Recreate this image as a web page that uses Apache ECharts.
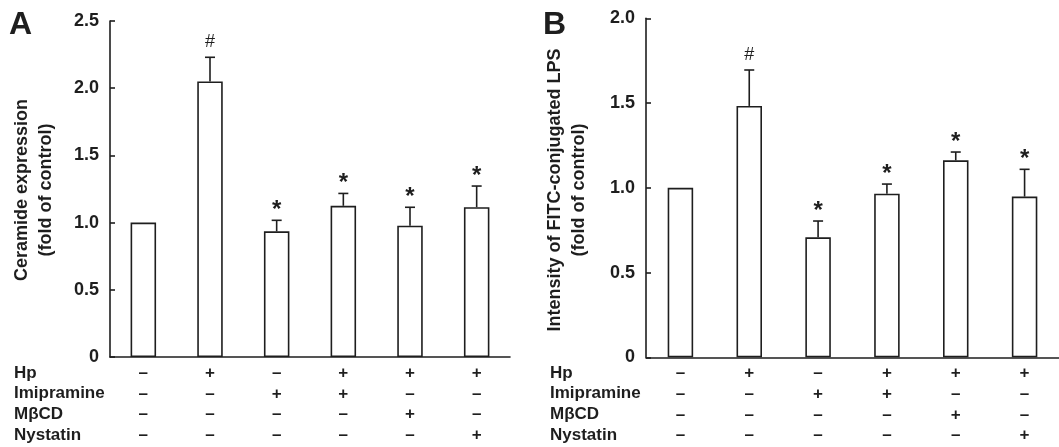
<!DOCTYPE html>
<html>
<head>
<meta charset="utf-8">
<script src="https://cdn.jsdelivr.net/npm/echarts@6/dist/echarts.min.js"></script>
<style>
html,body{margin:0;padding:0;background:#fff;}
#chart{width:1059px;height:447px;}
</style>
</head>
<body>
<div id="chart"></div>
<script>
// ---- data ----
var categories = ['Control', 'Hp', 'Imipramine', 'Hp+Imipramine', 'Hp+MβCD', 'Hp+Nystatin'];
var rowNames = ['Hp', 'Imipramine', 'MβCD', 'Nystatin'];
var hpRow   = ['–', '+', '–', '+', '+', '+'];
var imiRow  = ['–', '–', '+', '+', '–', '–'];
var mbcdRow = ['–', '–', '–', '–', '+', '–'];
var nysRow  = ['–', '–', '–', '–', '–', '+'];

var ceramideMean = [1.0, 2.05, 0.935, 1.125, 0.977, 1.115];
var ceramideErr  = [0, 0.18, 0.082, 0.092, 0.137, 0.157];
var ceramideMark = ['', '#', '*', '*', '*', '*'];
var ceramideTicks = [0, 0.5, 1.0, 1.5, 2.0, 2.5];

var lpsMean = [1.0, 1.483, 0.708, 0.965, 1.162, 0.948];
var lpsErr  = [0, 0.212, 0.096, 0.057, 0.049, 0.161];
var lpsMark = ['', '#', '*', '*', '*', '*'];
var lpsTicks = [0, 0.5, 1.0, 1.5, 2.0];

// ---- chart ----
var FONT = '"Liberation Sans", Arial, Helvetica, sans-serif';
var INK = '#1e1e1e';
var rows = [hpRow, imiRow, mbcdRow, nysRow];

function signFormatter(v, i) {
  return rows.map(function (r) { return r[i]; }).join('\n');
}
function tickFormatter(v) { return v === 0 ? '0' : v.toFixed(1); }

function errItem(means, errs, marks) {
  return function (params, api) {
    var i = params.dataIndex;
    var m = api.value(1), e = api.value(2);
    var base = api.coord([i, m]);
    var top = api.coord([i, m + e]);
    var children = [];
    if (e > 0) {
      children.push({ type: 'line', shape: { x1: base[0], y1: base[1], x2: top[0], y2: top[1] },
        style: { stroke: INK, lineWidth: 1.6 } });
      children.push({ type: 'line', shape: { x1: top[0] - 5, y1: top[1], x2: top[0] + 5, y2: top[1] },
        style: { stroke: INK, lineWidth: 1.6 } });
    }
    var mk = marks[i];
    if (mk) {
      var star = mk === '*';
      children.push({ type: 'text', x: top[0], y: top[1] - (star ? 10 : 15),
        style: { text: mk, fill: INK, font: (star ? 'bold 24px ' : '18px ') + FONT,
          textAlign: 'center', textVerticalAlign: 'middle' } });
    }
    return { type: 'group', children: children };
  };
}

function yAxisCfg(idx, max) {
  return {
    type: 'value', gridIndex: idx, min: 0, max: max, interval: 0.5,
    axisLine: { show: true, lineStyle: { color: INK, width: 1.6 } },
    axisTick: { show: true, inside: true, length: 5, lineStyle: { color: INK, width: 1.6 } },
    splitLine: { show: false },
    axisLabel: { formatter: tickFormatter, color: INK, fontFamily: FONT, fontWeight: 'bold', fontSize: 18, margin: 11 }
  };
}
function xAxisCfg(idx) {
  return {
    type: 'category', gridIndex: idx, data: categories,
    axisLine: { show: true, lineStyle: { color: INK, width: 1.6 } },
    axisTick: { show: false },
    axisLabel: { formatter: signFormatter, color: INK, fontFamily: FONT, fontWeight: 'bold', fontSize: 17,
      lineHeight: 20.7, margin: 6, interval: 0 }
  };
}

function customData(means, errs) {
  return means.map(function (m, i) { return [i, m, errs[i]]; });
}

var graphics = [
  { type: 'text', left: 9, top: 9, style: { text: 'A', font: 'bold 32px ' + FONT, fill: INK } },
  { type: 'text', left: 543, top: 9, style: { text: 'B', font: 'bold 32px ' + FONT, fill: INK } },
  { type: 'text', x: 34, y: 190, rotation: Math.PI / 2,
    style: { text: 'Ceramide expression\n(fold of control)', font: 'bold 18px ' + FONT, fill: INK,
      textAlign: 'center', textVerticalAlign: 'middle', lineHeight: 24 } },
  { type: 'text', x: 567, y: 190, rotation: Math.PI / 2,
    style: { text: 'Intensity of FITC-conjugated LPS\n(fold of control)', font: 'bold 18px ' + FONT, fill: INK,
      textAlign: 'center', textVerticalAlign: 'middle', lineHeight: 24 } }
];
rowNames.forEach(function (n, k) {
  var y = 373 + k * 20.7;
  graphics.push({ type: 'text', x: 14, y: y, style: { text: n, font: 'bold 17px ' + FONT, fill: INK, textVerticalAlign: 'middle' } });
  graphics.push({ type: 'text', x: 550, y: y, style: { text: n, font: 'bold 17px ' + FONT, fill: INK, textVerticalAlign: 'middle' } });
});

var chart = echarts.init(document.getElementById('chart'), null, { renderer: 'canvas' });
chart.setOption({
  animation: false,
  backgroundColor: '#fff',
  grid: [
    { left: 110, top: 21, width: 400, height: 336 },
    { left: 646, top: 18.3, width: 415, height: 339 }
  ],
  xAxis: [xAxisCfg(0), xAxisCfg(1)],
  yAxis: [yAxisCfg(0, 2.5), yAxisCfg(1, 2.0)],
  graphic: graphics,
  series: [
    { type: 'bar', xAxisIndex: 0, yAxisIndex: 0, data: ceramideMean, barWidth: 25.5,
      itemStyle: { color: '#fff', borderColor: INK, borderWidth: 1.6 } },
    { type: 'custom', xAxisIndex: 0, yAxisIndex: 0, data: customData(ceramideMean, ceramideErr),
      renderItem: errItem(ceramideMean, ceramideErr, ceramideMark), z: 5 },
    { type: 'bar', xAxisIndex: 1, yAxisIndex: 1, data: lpsMean, barWidth: 25.5,
      itemStyle: { color: '#fff', borderColor: INK, borderWidth: 1.6 } },
    { type: 'custom', xAxisIndex: 1, yAxisIndex: 1, data: customData(lpsMean, lpsErr),
      renderItem: errItem(lpsMean, lpsErr, lpsMark), z: 5 }
  ]
});
</script>
</body>
</html>
